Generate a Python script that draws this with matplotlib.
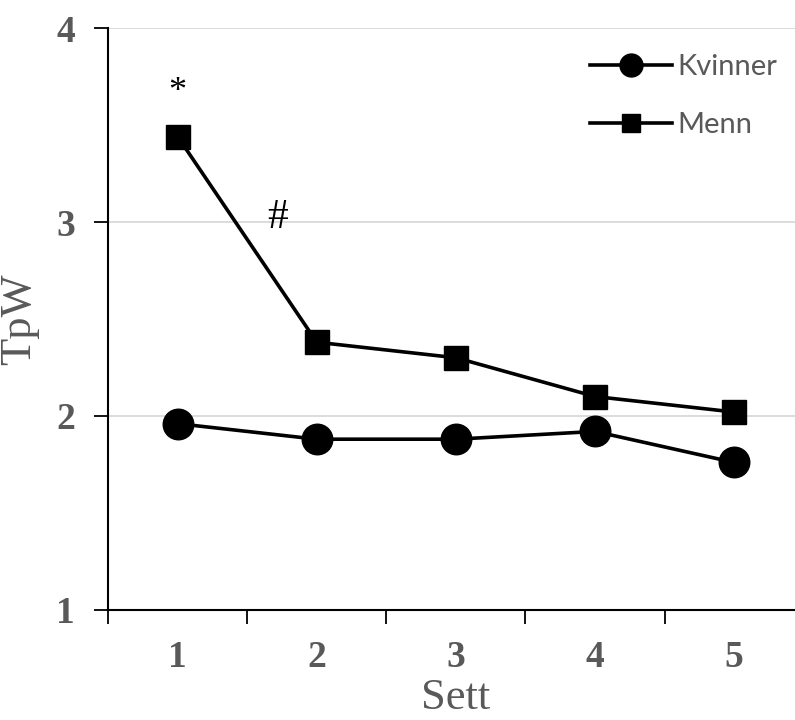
import matplotlib.pyplot as plt
from matplotlib.ticker import FixedLocator

# data
sett = [1, 2, 3, 4, 5]
kvinner = [1.96, 1.88, 1.88, 1.92, 1.76]
menn = [3.44, 2.38, 2.30, 2.10, 2.02]
y_ticks = [1, 2, 3, 4]

grey = '#595959'

fig = plt.figure(figsize=(7.95, 7.2), dpi=100)
ax = fig.add_axes([0.136, 0.153, 0.875, 0.808])

# grid first so lines sit on top
for yv in y_ticks[1:]:
    ax.axhline(yv, color='#d9d9d9', lw=1.3, zorder=0)

ax.plot(sett, kvinner, color='black', lw=2.6, marker='o', ms=22, label='Kvinner', zorder=3)
ax.plot(sett, menn, color='black', lw=2.6, marker='s', ms=17, label='Menn', zorder=3)

# significance marks
ax.text(1, 3.67, '*', ha='center', va='center', fontsize=26, family='Liberation Serif')
ax.text(1.72, 3.02, '#', ha='center', va='center', fontsize=30, family='Liberation Serif')

ax.set_xlim(0.5, 5.5)
ax.set_ylim(1, 4)
ax.set_yticks(y_ticks)
ax.set_xticks(sett)
ax.xaxis.set_minor_locator(FixedLocator([0.5, 1.5, 2.5, 3.5, 4.5]))
ax.tick_params(axis='x', which='major', length=0, pad=22)
ax.tick_params(axis='x', which='minor', length=10, width=1.3, direction='out')
ax.tick_params(axis='y', length=10, width=1.3, direction='out', pad=14)
for lab in ax.get_xticklabels() + ax.get_yticklabels():
    lab.set_family('Liberation Serif')
    lab.set_fontweight('bold')
    lab.set_fontsize(27)
    lab.set_color(grey)

ax.set_xlabel('Sett', family='Liberation Serif', fontsize=32, color=grey, labelpad=2)
ax.set_ylabel('TpW', family='Liberation Serif', fontsize=32, color=grey, labelpad=12)

ax.spines['top'].set_visible(False)
ax.spines['right'].set_visible(False)
ax.spines['left'].set_linewidth(1.5)
ax.spines['bottom'].set_linewidth(1.5)

leg = ax.legend(loc='upper right', bbox_to_anchor=(1.0, 1.0), frameon=False,
                prop={'family': 'Lato', 'size': 21}, handlelength=2.8,
                handletextpad=0.2, labelspacing=1.1, markerscale=0.75)
for t in leg.get_texts():
    t.set_color(grey)

fig.savefig('out.png')
